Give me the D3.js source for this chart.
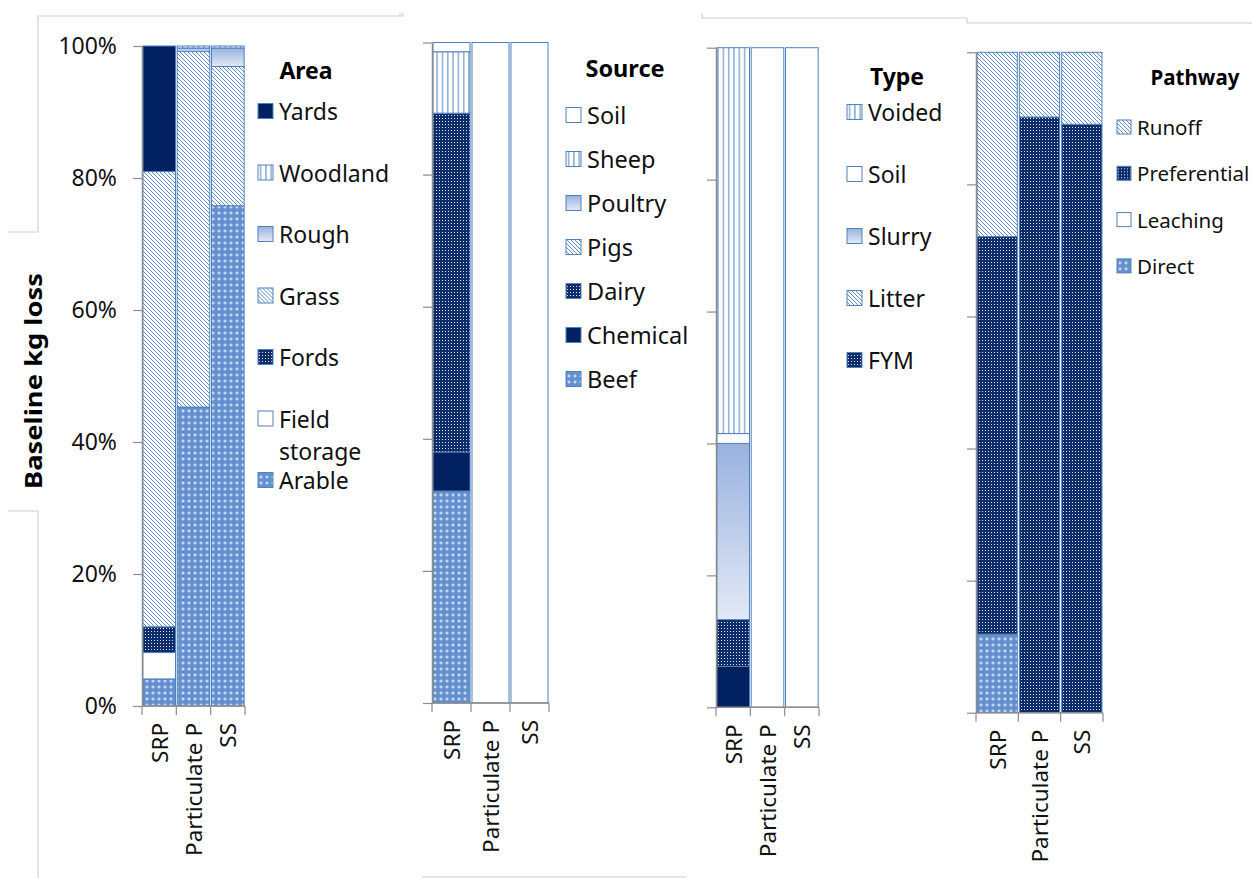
<!DOCTYPE html>
<html>
<head>
<meta charset="utf-8">
<script src="https://cdn.jsdelivr.net/npm/d3@7"></script>
<style>
  body { margin: 0; background: #fff; }
  svg { display: block; font-family: "Noto Sans", "Open Sans", sans-serif; }
</style>
</head>
<body>
<script>
// categories shared by all four panels
var categories = ["SRP", "Particulate P", "SS"];

// Area panel (values per category, in the order of areaSeries, bottom to top)
var areaSeries = ["Arable", "Field storage", "Fords", "Grass", "Rough", "Woodland", "Yards"];
var areaSRP   = [4.1, 4.0, 3.9, 69.0, 0, 0, 19.0];
var areaPartP = [45.3, 0, 0, 53.9, 0.5, 0.3, 0];
var areaSS    = [75.8, 0, 0, 21.1, 2.8, 0.3, 0];
var areaLegend = ["Yards", "Woodland", "Rough", "Grass", "Fords", "Field storage", "Arable"];

// Source panel
var sourceSeries = ["Beef", "Chemical", "Dairy", "Pigs", "Poultry", "Sheep", "Soil"];
var sourceSRP   = [32.1, 5.9, 51.3, 0, 0, 9.3, 1.4];
var sourcePartP = [0, 0, 0, 0, 0, 0, 100];
var sourceSS    = [0, 0, 0, 0, 0, 0, 100];
var sourceLegend = ["Soil", "Sheep", "Poultry", "Pigs", "Dairy", "Chemical", "Beef"];

// Type panel (bottom solid segment has no legend entry in the original)
var typeSeries = ["Chemical", "FYM", "Litter", "Slurry", "Soil", "Voided"];
var typeSRP   = [6.2, 7.1, 0, 26.7, 1.5, 58.5];
var typePartP = [0, 0, 0, 0, 100, 0];
var typeSS    = [0, 0, 0, 0, 100, 0];
var typeLegend = ["Voided", "Soil", "Slurry", "Litter", "FYM"];

// Pathway panel
var pathSeries = ["Direct", "Leaching", "Preferential", "Runoff"];
var pathSRP   = [11.9, 0, 60.2, 27.9];
var pathPartP = [0, 0, 90.2, 9.8];
var pathSS    = [0, 0, 89.1, 10.9];
var pathLegend = ["Runoff", "Preferential", "Leaching", "Direct"];

var yTicks = [0, 20, 40, 60, 80, 100];

// fill style for each series name
var fills = {
  "Arable": "url(#lightdots)", "Beef": "url(#lightdots)", "Direct": "url(#lightdots)",
  "Field storage": "#fff", "Soil": "#fff", "Leaching": "#fff",
  "Fords": "url(#darkdots)", "Dairy": "url(#darkdots)", "FYM": "url(#darkdots)", "Preferential": "url(#darkdots)",
  "Grass": "url(#diag)", "Pigs": "url(#diag)", "Litter": "url(#diag)", "Runoff": "url(#diag)",
  "Rough": "url(#grad)", "Poultry": "url(#grad)", "Slurry": "url(#grad)",
  "Woodland": "url(#vert)", "Sheep": "url(#vert)", "Voided": "url(#vert)",
  "Yards": "#002060", "Chemical": "#002060"
};

var w = 1252, h = 878;
var blue = "#4f81bd";
var axisCol = "#8c8c8c";

var svg = d3.select("body").append("svg").attr("width", w).attr("height", h);
var defs = svg.append("defs");

var p = defs.append("pattern").attr("id", "diag").attr("patternUnits", "userSpaceOnUse")
  .attr("width", 4).attr("height", 4);
p.append("rect").attr("width", 4).attr("height", 4).attr("fill", "#fff");
p.append("path").attr("d", "M-1,-1L5,5M3,-1L5,1M-1,3L1,5").attr("stroke", blue).attr("stroke-width", 0.9);

p = defs.append("pattern").attr("id", "vert").attr("patternUnits", "userSpaceOnUse")
  .attr("width", 5.3).attr("height", 5);
p.append("rect").attr("width", 5.3).attr("height", 5).attr("fill", "#fff");
p.append("line").attr("x1", 2.6).attr("x2", 2.6).attr("y1", 0).attr("y2", 5).attr("stroke", blue).attr("stroke-width", 1);

p = defs.append("pattern").attr("id", "darkdots").attr("patternUnits", "userSpaceOnUse")
  .attr("width", 3).attr("height", 3);
p.append("rect").attr("width", 3).attr("height", 3).attr("fill", "#0f2c6a");
p.append("rect").attr("x", 1).attr("y", 1).attr("width", 1).attr("height", 1).attr("fill", "#dfe6f3");

// light blue with a pale diamond lattice
p = defs.append("pattern").attr("id", "lightdots").attr("patternUnits", "userSpaceOnUse")
  .attr("width", 6).attr("height", 6);
p.append("rect").attr("width", 6).attr("height", 6).attr("fill", "#6590d0");
p.append("path").attr("d", "M3,1L5,3L3,5L1,3Z").attr("fill", "#b4c8ec");
p.append("rect").attr("x", 2.5).attr("y", 2.5).attr("width", 1).attr("height", 1).attr("fill", "#ffffff");

var g0 = defs.append("linearGradient").attr("id", "grad").attr("x1", 0).attr("y1", 0).attr("x2", 0).attr("y2", 1);
g0.append("stop").attr("offset", "0%").attr("stop-color", "#98b2df");
g0.append("stop").attr("offset", "100%").attr("stop-color", "#e3e9f5");

// faint chart-area borders left over from the original layout
var frames = [
  "M8,232H38V16H403V13",
  "M8,511H38V878",
  "M400,13V16",
  "M422,877H687",
  "M702,13V18H967",
  "M967,18V23H1252"
];
svg.append("g").selectAll("path").data(frames).enter().append("path")
  .attr("d", function(d) { return d; })
  .attr("fill", "none").attr("stroke", "#cfcfcf").attr("stroke-width", 1.2);

var panels = [
  { title: "Area", series: areaSeries, values: [areaSRP, areaPartP, areaSS], legend: areaLegend,
    x0: 142, x1: 245, yTop: 46, yBot: 706, labels: true,
    lx: 258, ly: 111, step: 61.5, sw: 15, fs: 23, tx: 306, ty: 70 },
  { title: "Source", series: sourceSeries, values: [sourceSRP, sourcePartP, sourceSS], legend: sourceLegend,
    x0: 432, x1: 549, yTop: 42.5, yBot: 703, labels: false,
    lx: 566, ly: 115, step: 44, sw: 15, fs: 23.5, tx: 625, ty: 68 },
  { title: "Type", series: typeSeries, values: [typeSRP, typePartP, typeSS], legend: typeLegend,
    x0: 716, x1: 819, yTop: 47.7, yBot: 707.3, labels: false,
    lx: 847, ly: 112, step: 62, sw: 15, fs: 23, tx: 897, ty: 76 },
  { title: "Pathway", series: pathSeries, values: [pathSRP, pathPartP, pathSS], legend: pathLegend,
    x0: 976, x1: 1103, yTop: 52.3, yBot: 712.7, labels: false,
    lx: 1117, ly: 127, step: 46.3, sw: 14, fs: 20.5, tx: 1195, ty: 77 }
];

panels.forEach(drawPanel);

// y axis title
svg.append("text")
  .attr("transform", "translate(33,381) rotate(-90)")
  .attr("text-anchor", "middle").attr("dominant-baseline", "central")
  .attr("textLength", 216).attr("lengthAdjust", "spacingAndGlyphs")
  .style("font-size", "23px").style("font-weight", "bold")
  .text("Baseline kg loss");

function drawPanel(pn) {
  var g = svg.append("g");

  var rows = categories.map(function(c, i) {
    var o = { cat: c };
    pn.series.forEach(function(s, j) { o[s] = pn.values[i][j]; });
    return o;
  });
  var stacked = d3.stack().keys(pn.series)(rows);

  var x = d3.scaleBand().domain(categories).range([pn.x0, pn.x1])
    .paddingInner(0.05).paddingOuter(0.025);
  var y = d3.scaleLinear().domain([0, 100]).range([pn.yBot, pn.yTop]);

  // bars
  var layer = g.selectAll(".layer").data(stacked).enter().append("g")
    .attr("class", "layer")
    .attr("fill", function(d) { return fills[d.key]; });

  layer.selectAll("rect")
    .data(function(d) { return d.filter(function(v) { return v[1] - v[0] > 0; }); })
    .enter().append("rect")
    .attr("x", function(d) { return x(d.data.cat); })
    .attr("width", x.bandwidth())
    .attr("y", function(d) { return y(d[1]); })
    .attr("height", function(d) { return y(d[0]) - y(d[1]); })
    .attr("stroke", blue).attr("stroke-width", 1);

  // y axis
  var ya = g.append("g").attr("transform", "translate(" + pn.x0 + ",0)")
    .call(d3.axisLeft(y).tickValues(yTicks).tickSize(9).tickSizeOuter(0)
      .tickFormat(function(d) { return pn.labels ? d + "%" : ""; }));
  ya.select(".domain").attr("stroke", axisCol).attr("stroke-width", 1.5);
  ya.selectAll(".tick line").attr("stroke", axisCol).attr("stroke-width", 1.2);
  ya.selectAll(".tick text").attr("x", -25)
    .style("font-size", "23px").style("font-family", "\"Noto Sans\", sans-serif").attr("fill", "#111");

  // x axis with ticks between categories
  var xa = g.append("g");
  xa.append("line").attr("x1", pn.x0).attr("x2", pn.x1)
    .attr("y1", pn.yBot).attr("y2", pn.yBot)
    .attr("stroke", axisCol).attr("stroke-width", 1.5);
  var bounds = d3.range(categories.length + 1).map(function(i) { return pn.x0 + i * x.step(); });
  bounds[bounds.length - 1] = pn.x1;
  xa.selectAll(".bt").data(bounds).enter().append("line")
    .attr("x1", function(d) { return d; }).attr("x2", function(d) { return d; })
    .attr("y1", pn.yBot).attr("y2", pn.yBot + 9)
    .attr("stroke", axisCol).attr("stroke-width", 1.2);

  xa.selectAll(".cl").data(categories).enter().append("text")
    .attr("transform", function(d) {
      return "translate(" + (x(d) + x.bandwidth() / 2) + "," + (pn.yBot + 17) + ") rotate(-90)";
    })
    .attr("text-anchor", "end").attr("dominant-baseline", "central")
    .style("font-size", "22.5px").attr("fill", "#111")
    .text(function(d) { return d; });

  // legend
  var lg = g.append("g");
  lg.append("text").attr("x", pn.tx).attr("y", pn.ty)
    .attr("text-anchor", "middle").attr("dominant-baseline", "central")
    .style("font-size", (pn.fs) + "px").style("font-weight", "bold")
    .text(pn.title);

  var items = lg.selectAll(".item").data(pn.legend).enter().append("g")
    .attr("transform", function(d, i) { return "translate(" + pn.lx + "," + (pn.ly + i * pn.step) + ")"; });

  items.append("rect")
    .attr("x", 0).attr("y", -pn.sw / 2).attr("width", pn.sw).attr("height", pn.sw)
    .attr("fill", function(d) { return fills[d]; })
    .attr("stroke", blue).attr("stroke-width", 1);

  items.each(function(d) {
    var t = d3.select(this).append("text")
      .attr("x", pn.sw + 6).attr("y", 0)
      .attr("dominant-baseline", "central")
      .style("font-size", pn.fs + "px").attr("fill", "#111");
    if (d == "Field storage") {
      t.append("tspan").attr("x", pn.sw + 6).attr("dy", 0).text("Field");
      t.append("tspan").attr("x", pn.sw + 6).attr("dy", 32).text("storage");
    } else {
      t.text(d);
    }
  });
}
</script>
</body>
</html>
